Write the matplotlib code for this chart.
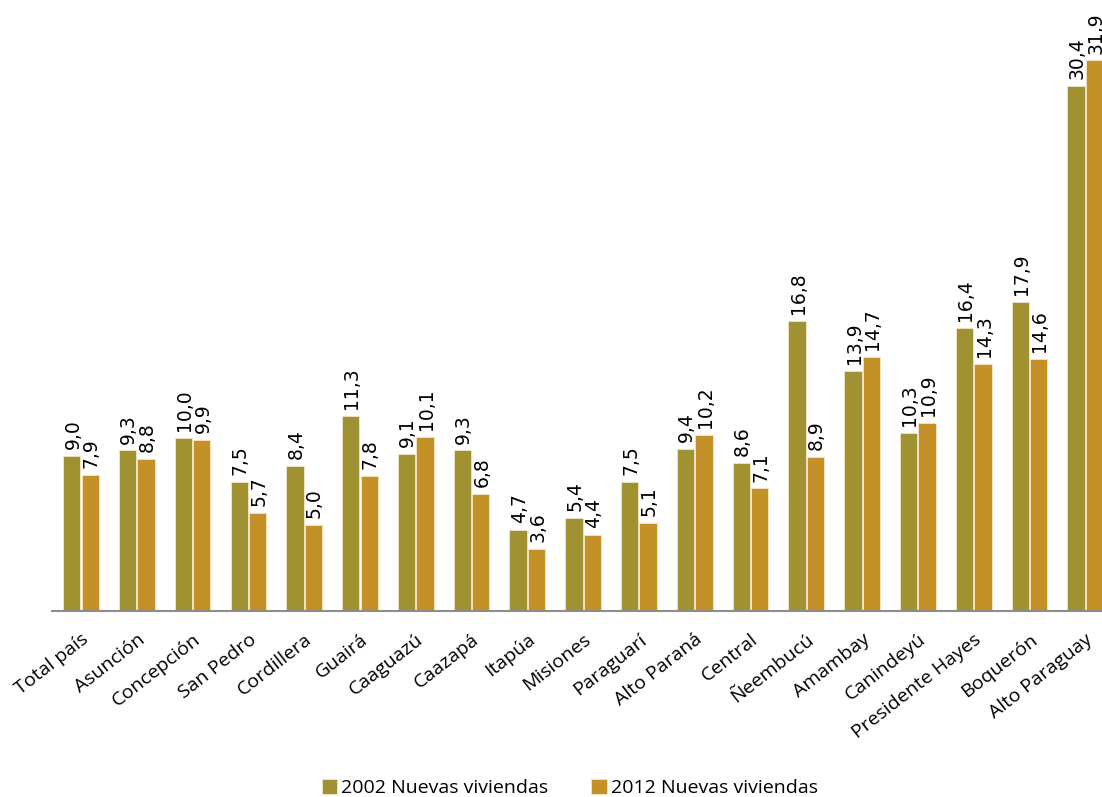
import matplotlib.pyplot as plt
import numpy as np

departamentos = ["Total país", "Asunción", "Concepción", "San Pedro", "Cordillera",
                 "Guairá", "Caaguazú", "Caazapá", "Itapúa", "Misiones", "Paraguarí",
                 "Alto Paraná", "Central", "Ñeembucú", "Amambay", "Canindeyú",
                 "Presidente Hayes", "Boquerón", "Alto Paraguay"]
v2002 = [9.0, 9.3, 10.0, 7.5, 8.4, 11.3, 9.1, 9.3, 4.7, 5.4, 7.5, 9.4, 8.6, 16.8, 13.9, 10.3, 16.4, 17.9, 30.4]
v2012 = [7.9, 8.8, 9.9, 5.7, 5.0, 7.8, 10.1, 6.8, 3.6, 4.4, 5.1, 10.2, 7.1, 8.9, 14.7, 10.9, 14.3, 14.6, 31.9]
series = ["2002 Nuevas viviendas", "2012 Nuevas viviendas"]
colores = ["#A09232", "#C39128"]

plt.rcParams['font.family'] = ['Open Sans', 'DejaVu Sans']

fig = plt.figure(figsize=(11.02, 7.97), dpi=100)
ax = fig.add_axes([52 / 1102, 186 / 797, 1 - 52 / 1102, 1 - 186 / 797])

x = np.arange(len(departamentos))
w = 0.31
for k, (vals, col, lab) in enumerate(zip([v2002, v2012], colores, series)):
    pos = x + (k - 0.5) * (w + 0.02)
    ax.bar(pos, vals, w, color=col, edgecolor="#F2E6C8", linewidth=0.6, label=lab)
    for xi, v in zip(pos, vals):
        ax.text(xi + 0.02, v + 0.4, f"{v:.1f}".replace(".", ","), rotation=90,
                ha="center", va="bottom", fontsize=13.5, family="DejaVu Sans")

ax.set_xlim(-0.52, 18.3)
ax.set_ylim(0, 35.4)
ax.set_yticks([])
ax.set_xticks(x)
ax.set_xticklabels(departamentos, rotation=38, ha="right", rotation_mode="anchor", fontsize=14)
ax.tick_params(axis="x", length=0, pad=14)
for s in ["top", "right", "left"]:
    ax.spines[s].set_visible(False)
ax.spines["bottom"].set_color("#8C8C8C")
ax.spines["bottom"].set_linewidth(1.5)

fig.legend(loc="lower center", bbox_to_anchor=(0.517, -0.022), ncol=2, frameon=False,
           fontsize=14, handlelength=0.8, handleheight=0.8, handletextpad=0.2, columnspacing=2.2)

fig.savefig("out.png", dpi=100)
